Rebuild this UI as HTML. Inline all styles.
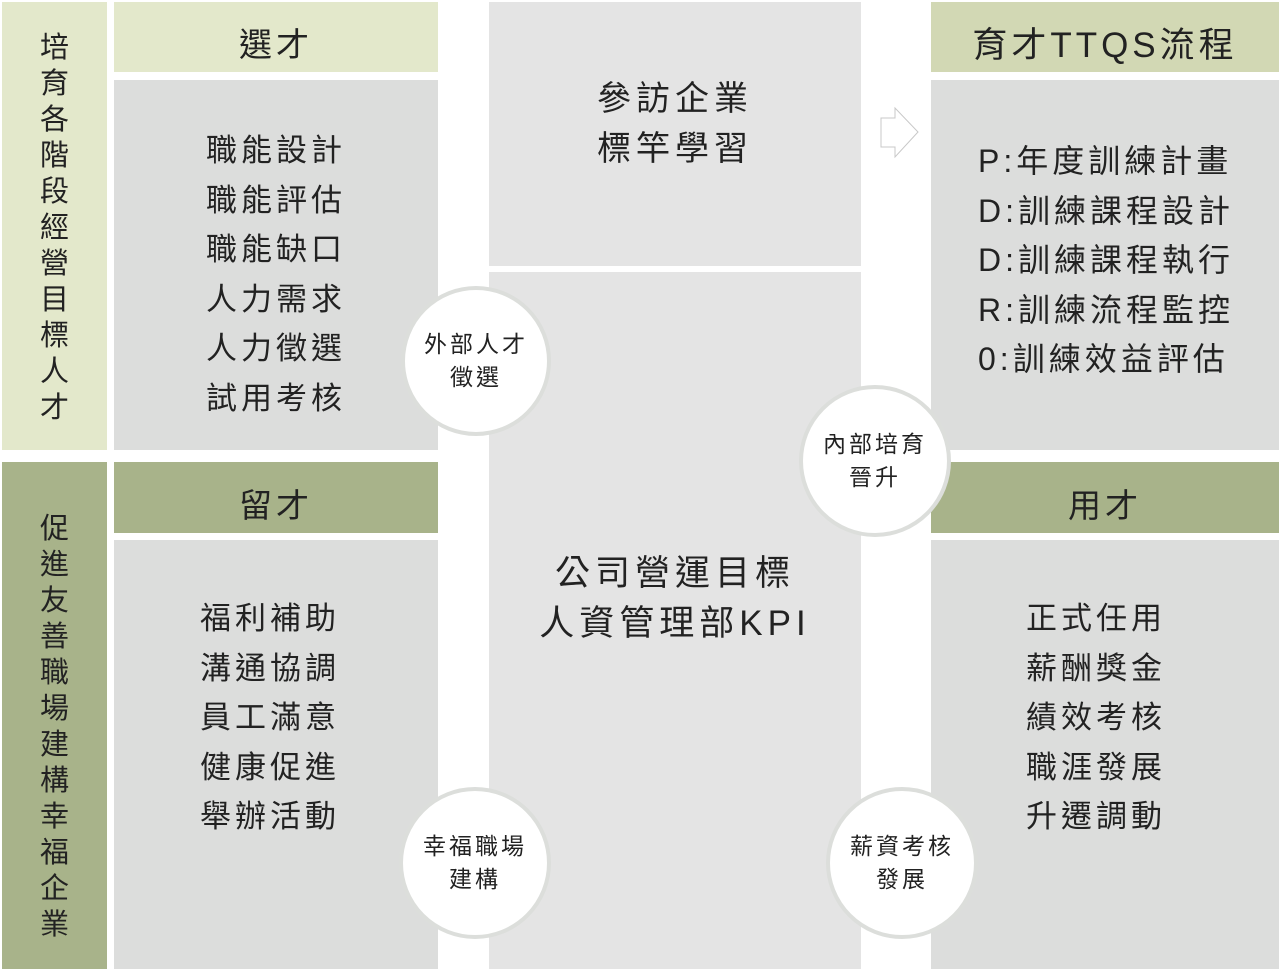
<!DOCTYPE html>
<html><head><meta charset="utf-8"><style>
*{margin:0;padding:0;box-sizing:border-box}
body{width:1280px;height:969px;background:#fff;position:relative;overflow:hidden;font-family:"Liberation Sans","Noto Sans CJK TC",sans-serif;color:#222}
.b{position:absolute}
.t{position:absolute;text-align:center;white-space:nowrap}
.lg{background:#e3e8cb}.dg{background:#a8b38a}.gr{background:#dcdddc}.cg{background:#e4e4e4}
.v{position:absolute;width:105px;text-align:center;font-size:29px;line-height:36px;word-break:break-all}
.h{font-size:33px;letter-spacing:4px}
.list{font-size:31px;line-height:49.5px;letter-spacing:4px}
.c{position:absolute;border-radius:50%;background:#fff;border:4px solid #dcdedb;display:flex;align-items:center;justify-content:center;text-align:center;font-size:23px;line-height:33px;letter-spacing:3px}
</style></head><body>
<div class="b lg" style="left:2px;top:2px;width:105px;height:448px"></div>
<div class="v" style="left:2px;top:30px;padding:0 36px">培育各階段經營目標人才</div>
<div class="b dg" style="left:2px;top:462px;width:105px;height:507px"></div>
<div class="v" style="left:2px;top:511px;padding:0 36px">促進友善職場建構幸福企業</div>

<div class="b lg" style="left:114px;top:2px;width:324px;height:70px"></div>
<div class="t h" style="left:114px;width:324px;top:18px">選才</div>
<div class="b gr" style="left:114px;top:80px;width:324px;height:370px"></div>
<div class="t list" style="left:114px;width:324px;top:126px">職能設計<br>職能評估<br>職能缺口<br>人力需求<br>人力徵選<br>試用考核</div>

<div class="b dg" style="left:114px;top:462px;width:324px;height:71px"></div>
<div class="t h" style="left:114px;width:324px;top:479px">留才</div>
<div class="b gr" style="left:114px;top:540px;width:324px;height:429px"></div>
<div class="t list" style="left:108px;width:324px;top:594px">福利補助<br>溝通協調<br>員工滿意<br>健康促進<br>舉辦活動</div>

<div class="b cg" style="left:489px;top:2px;width:372px;height:264px"></div>
<div class="t list" style="left:489px;width:372px;top:74px;line-height:50px;font-size:34px;letter-spacing:5px">參訪企業<br>標竿學習</div>
<div class="b cg" style="left:489px;top:272px;width:372px;height:697px"></div>
<div class="t list" style="left:489px;width:372px;top:549px;font-size:35px;letter-spacing:5px">公司營運目標<br>人資管理部KPI</div>

<div class="b" style="left:931px;top:2px;width:348px;height:70px;background:#d2d8b4"></div>
<div class="t h" style="left:931px;width:348px;top:17px;font-size:35px">育才TTQS流程</div>
<div class="b gr" style="left:931px;top:80px;width:348px;height:370px"></div>
<div class="t list" style="left:978px;top:137px;text-align:left;letter-spacing:4px;font-size:32px">P:年度訓練計畫<br>D:訓練課程設計<br>D:訓練課程執行<br>R:訓練流程監控<br>0:訓練效益評估</div>

<div class="b dg" style="left:931px;top:462px;width:348px;height:71px"></div>
<div class="t h" style="left:931px;width:348px;top:479px">用才</div>
<div class="b gr" style="left:931px;top:540px;width:348px;height:429px"></div>
<div class="t list" style="left:931px;width:330px;top:594px">正式任用<br>薪酬獎金<br>績效考核<br>職涯發展<br>升遷調動</div>

<svg class="b" style="left:878px;top:105px" width="44" height="56"><polygon points="3,13 17,13 17,3 40,27 17,52 17,42 3,42" fill="#fff" stroke="#c8c8c8" stroke-width="1"/></svg>

<div class="c" style="left:401px;top:286px;width:150px;height:150px">外部人才<br>徵選</div>
<div class="c" style="left:799px;top:385px;width:152px;height:152px">內部培育<br>晉升</div>
<div class="c" style="left:399px;top:787px;width:152px;height:152px">幸福職場<br>建構</div>
<div class="c" style="left:826px;top:787px;width:152px;height:152px">薪資考核<br>發展</div>
</body></html>
